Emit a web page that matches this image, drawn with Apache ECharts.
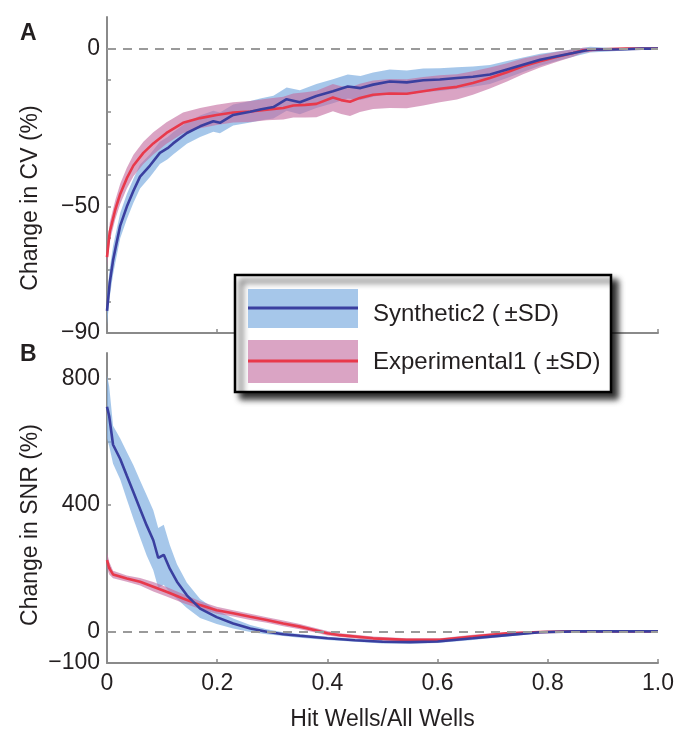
<!DOCTYPE html>
<html>
<head>
<meta charset="utf-8">
<script src="https://cdn.jsdelivr.net/npm/echarts@6/dist/echarts.min.js"></script>
<style>
html,body{margin:0;padding:0;background:#fff;}
#chart{width:692px;height:750px;}
</style>
</head>
<body>
<div id="chart"></div>
<script>
// ---------- Panel A: Change in CV (%) ----------
var cvSynX = [0, 0.005, 0.011, 0.018, 0.024, 0.036, 0.048, 0.06, 0.078, 0.096, 0.11, 0.12, 0.145, 0.169, 0.193, 0.205, 0.229, 0.26, 0.28, 0.302, 0.326, 0.35, 0.38, 0.41, 0.437, 0.46, 0.483, 0.513, 0.544, 0.574, 0.604, 0.635, 0.664, 0.695, 0.726, 0.755, 0.786, 0.817, 0.846, 0.877, 0.91, 0.94, 0.97, 1.0];
var cvSynY = [-83, -74, -67, -61, -56, -50, -45, -40.5, -37, -33, -31.5, -30, -26.7, -24.6, -23, -23.5, -21, -20, -19.2, -18.5, -16, -17, -15, -13.5, -12, -12.5, -11.4, -10.4, -10.7, -10, -9.8, -9.3, -8.9, -8.2, -6.6, -5.1, -3.5, -2.4, -1.4, -0.3, -0.3, -0.2, 0, 0];
var cvSynSD = [4.5, 4.5, 4.5, 4.2, 4, 4, 3.8, 3.8, 3.6, 3.5, 3.5, 3.5, 3.4, 3.4, 3.3, 3.3, 3.3, 3.4, 3.5, 3.6, 3.7, 3.8, 3.8, 3.8, 3.8, 3.8, 3.8, 3.8, 3.8, 3.7, 3.6, 3.4, 3.2, 3, 2.7, 2.3, 1.9, 1.5, 1.2, 0.9, 0.6, 0.4, 0.2, 0];

var cvExpX = [0, 0.005, 0.015, 0.024, 0.036, 0.048, 0.066, 0.084, 0.108, 0.138, 0.169, 0.199, 0.229, 0.26, 0.29, 0.32, 0.338, 0.36, 0.38, 0.41, 0.425, 0.441, 0.459, 0.483, 0.513, 0.544, 0.574, 0.604, 0.635, 0.664, 0.695, 0.726, 0.755, 0.786, 0.817, 0.846, 0.864, 0.9, 0.94, 0.97, 1.0];
var cvExpY = [-66, -58, -51, -46, -41, -37, -33, -30, -26.7, -23.5, -22, -21, -20.2, -19.9, -19.3, -18.8, -18, -17.8, -17.5, -15.5, -16.3, -16.8, -15.6, -14.6, -14.2, -14.3, -13.5, -12.7, -12.1, -10.9, -9.3, -7.5, -5.6, -4, -2.6, -1.4, -0.5, -0.2, 0, 0, 0];
var cvExpSD = [3, 3, 3, 3.2, 3.3, 3.4, 3.5, 3.5, 3.4, 3.3, 3.2, 3.2, 3.2, 3.3, 3.4, 3.6, 3.8, 4, 4.2, 4.3, 4.4, 4.5, 4.5, 4.5, 4.6, 4.6, 4.5, 4.3, 4, 3.7, 3.3, 2.9, 2.5, 2, 1.6, 1.2, 0.8, 0.4, 0.2, 0.1, 0];

// ---------- Panel B: Change in SNR (%) ----------
var snrSynX = [0, 0.004, 0.011, 0.024, 0.036, 0.048, 0.06, 0.072, 0.084, 0.093, 0.103, 0.114, 0.127, 0.145, 0.169, 0.199, 0.229, 0.26, 0.29, 0.32, 0.35, 0.4, 0.45, 0.5, 0.55, 0.6, 0.664, 0.726, 0.786, 0.85, 0.9, 0.95, 1.0];
var snrSynY = [710, 680, 590, 545, 492, 440, 387, 335, 288, 232, 242, 198, 157, 114, 72, 45, 25, 9, -1, -9, -14, -22, -28, -33, -34, -32, -22, -12, -3, 0, 0, 0, 0];
var snrSynSD = [100, 95, 60, 65, 75, 85, 90, 95, 95, 95, 95, 75, 55, 40, 30, 22, 16, 11, 8, 6, 6, 5, 5, 5, 5, 5, 5, 4, 3, 2, 2, 1, 0];

var snrExpX = [0, 0.004, 0.011, 0.036, 0.06, 0.084, 0.108, 0.138, 0.169, 0.199, 0.229, 0.26, 0.29, 0.32, 0.35, 0.38, 0.4, 0.423, 0.483, 0.544, 0.604, 0.664, 0.726, 0.786, 0.85, 0.9, 0.95, 1.0];
var snrExpY = [225, 200, 180, 167, 157, 141, 125, 104, 83, 67, 57, 46, 36, 25, 15, 3, -6, -12, -22, -27, -27, -16, -6, -2, 0, 0, 0, 0];
var snrExpSD = [25, 20, 12, 10, 12, 15, 15, 14, 12, 11, 10, 10, 9, 9, 8, 7, 7, 6, 6, 5, 5, 5, 4, 3, 2, 1, 1, 0];

// ---------- Labels / ticks ----------
var seriesNames = ['Synthetic2 (\u2009\u00B1SD)', 'Experimental1 (\u2009\u00B1SD)'];
var xTicks = [0, 0.2, 0.4, 0.6, 0.8, 1.0];
var cvLabelVals = [-90, -50, 0];
var cvTickVals = [-90, -80, -70, -60, -50, -40, -30, -20, -10, 0];
var snrLabelVals = [-100, 0, 400, 800];
var snrTickVals = [-100, 0, 200, 400, 600, 800];

var BLUE = '#3a3f9f', RED = '#e8394b';
var BLUE_BAND = 'rgba(131,178,226,0.72)', PINK_BAND = 'rgba(196,108,159,0.62)';
var AXIS = '#8a8a8a', TXT = '#231f20';
var FONT = 'Liberation Sans, Arial, Helvetica, sans-serif';

function pairs(xs, ys) { return xs.map(function (x, i) { return [x, ys[i]]; }); }

function band(xs, ys, sd, color, gi, z) {
  return {
    type: 'custom', xAxisIndex: gi, yAxisIndex: gi, silent: true, z: z,
    data: [[0, 0]],
    renderItem: function (params, api) {
      var pts = [], i;
      for (i = 0; i < xs.length; i++) pts.push(api.coord([xs[i], ys[i] + sd[i]]));
      for (i = xs.length - 1; i >= 0; i--) pts.push(api.coord([xs[i], ys[i] - sd[i]]));
      return { type: 'polygon', shape: { points: pts }, style: { fill: color } };
    }
  };
}
function line(xs, ys, color, gi, z) {
  return {
    type: 'line', xAxisIndex: gi, yAxisIndex: gi, data: pairs(xs, ys),
    showSymbol: false, symbol: 'none', smooth: false, z: z, silent: true,
    lineStyle: { color: color, width: 2.6 }
  };
}
function zeroLine(gi) {
  return {
    type: 'line', xAxisIndex: gi, yAxisIndex: gi, data: [], z: 0, silent: true,
    markLine: {
      silent: true, symbol: 'none', label: { show: false },
      lineStyle: { color: '#9a9a9a', type: [9, 7], width: 2 },
      data: [{ yAxis: 0 }]
    }
  };
}
function fmtMinus(v) { return String(v).replace('-', '\u2212'); }

function xAxis(gi, showLabels) {
  return {
    type: 'value', gridIndex: gi, min: 0, max: 1, interval: 0.2,
    splitLine: { show: false },
    axisLine: { show: true, onZero: false, lineStyle: { color: AXIS, width: 2 } },
    axisTick: { show: true, inside: true, length: 4, lineStyle: { color: AXIS, width: 1.5 } },
    axisLabel: {
      show: showLabels, margin: 9, color: TXT, fontSize: 23, fontFamily: FONT,
      customValues: xTicks,
      formatter: function (v) { return v === 0 ? '0' : v.toFixed(1); }
    },
    name: showLabels ? 'Hit Wells/All Wells' : '',
    nameLocation: 'middle', nameGap: 45,
    nameTextStyle: { color: TXT, fontSize: 23, fontFamily: FONT }
  };
}
function yAxis(gi, min, max, labels, ticks) {
  return {
    type: 'value', gridIndex: gi, min: min, max: max,
    splitLine: { show: false },
    axisLine: { show: true, onZero: false, lineStyle: { color: AXIS, width: 2 } },
    axisTick: { show: true, inside: true, length: 4, customValues: ticks, lineStyle: { color: AXIS, width: 1.5 } },
    axisLabel: {
      show: true, margin: 7, color: TXT, fontSize: 23, fontFamily: FONT,
      customValues: labels, formatter: fmtMinus
    }
  };
}

var chart = echarts.init(document.getElementById('chart'), null, { renderer: 'canvas' });
chart.setOption({
  animation: false,
  backgroundColor: '#ffffff',
  grid: [
    { left: 107, right: 34, top: 17, bottom: 417 },
    { left: 107, right: 34, top: 353, bottom: 87 }
  ],
  xAxis: [xAxis(0, false), xAxis(1, true)],
  yAxis: [
    yAxis(0, -90, 10, cvLabelVals, cvTickVals),
    yAxis(1, -100, 880, snrLabelVals, snrTickVals)
  ],
  series: [
    zeroLine(0), zeroLine(1),
    band(cvSynX, cvSynY, cvSynSD, BLUE_BAND, 0, 1),
    band(cvExpX, cvExpY, cvExpSD, PINK_BAND, 0, 2),
    line(cvSynX, cvSynY, BLUE, 0, 4),
    line(cvExpX, cvExpY, RED, 0, 3),
    band(snrSynX, snrSynY, snrSynSD, BLUE_BAND, 1, 1),
    band(snrExpX, snrExpY, snrExpSD, PINK_BAND, 1, 2),
    line(snrSynX, snrSynY, BLUE, 1, 4),
    line(snrExpX, snrExpY, RED, 1, 3)
  ],
  graphic: [
    { type: 'text', left: 20, top: 22, z: 10, style: { text: 'A', font: 'bold 23px ' + FONT, fill: TXT } },
    { type: 'text', left: 20, top: 343, z: 10, style: { text: 'B', font: 'bold 23px ' + FONT, fill: TXT } },
    { type: 'text', x: 31, y: 198, rotation: Math.PI / 2, z: 10,
      style: { text: 'Change in CV (%)', font: '23px ' + FONT, fill: TXT, align: 'center', verticalAlign: 'middle' } },
    { type: 'text', x: 31, y: 525, rotation: Math.PI / 2, z: 10,
      style: { text: 'Change in SNR (%)', font: '23px ' + FONT, fill: TXT, align: 'center', verticalAlign: 'middle' } },
    // legend box
    { type: 'rect', z: 20, shape: { x: 235, y: 275, width: 376, height: 117 },
      style: { fill: '#ffffff', stroke: '#000000', lineWidth: 2.5,
               shadowBlur: 6, shadowOffsetX: 6, shadowOffsetY: 6, shadowColor: 'rgba(0,0,0,0.85)' } },
    { type: 'rect', z: 21, shape: { x: 248, y: 289, width: 110, height: 39 }, style: { fill: BLUE_BAND } },
    { type: 'line', z: 22, shape: { x1: 248, y1: 308, x2: 358, y2: 308 }, style: { stroke: BLUE, lineWidth: 3 } },
    { type: 'rect', z: 21, shape: { x: 248, y: 340, width: 110, height: 43 }, style: { fill: PINK_BAND } },
    { type: 'line', z: 22, shape: { x1: 248, y1: 361, x2: 358, y2: 361 }, style: { stroke: RED, lineWidth: 3 } },
    { type: 'text', z: 22, x: 373, y: 314, style: { text: seriesNames[0], font: '24px ' + FONT, fill: TXT, verticalAlign: 'middle' } },
    { type: 'text', z: 22, x: 373, y: 362, style: { text: seriesNames[1], font: '24px ' + FONT, fill: TXT, verticalAlign: 'middle' } }
  ]
});
</script>
</body>
</html>
